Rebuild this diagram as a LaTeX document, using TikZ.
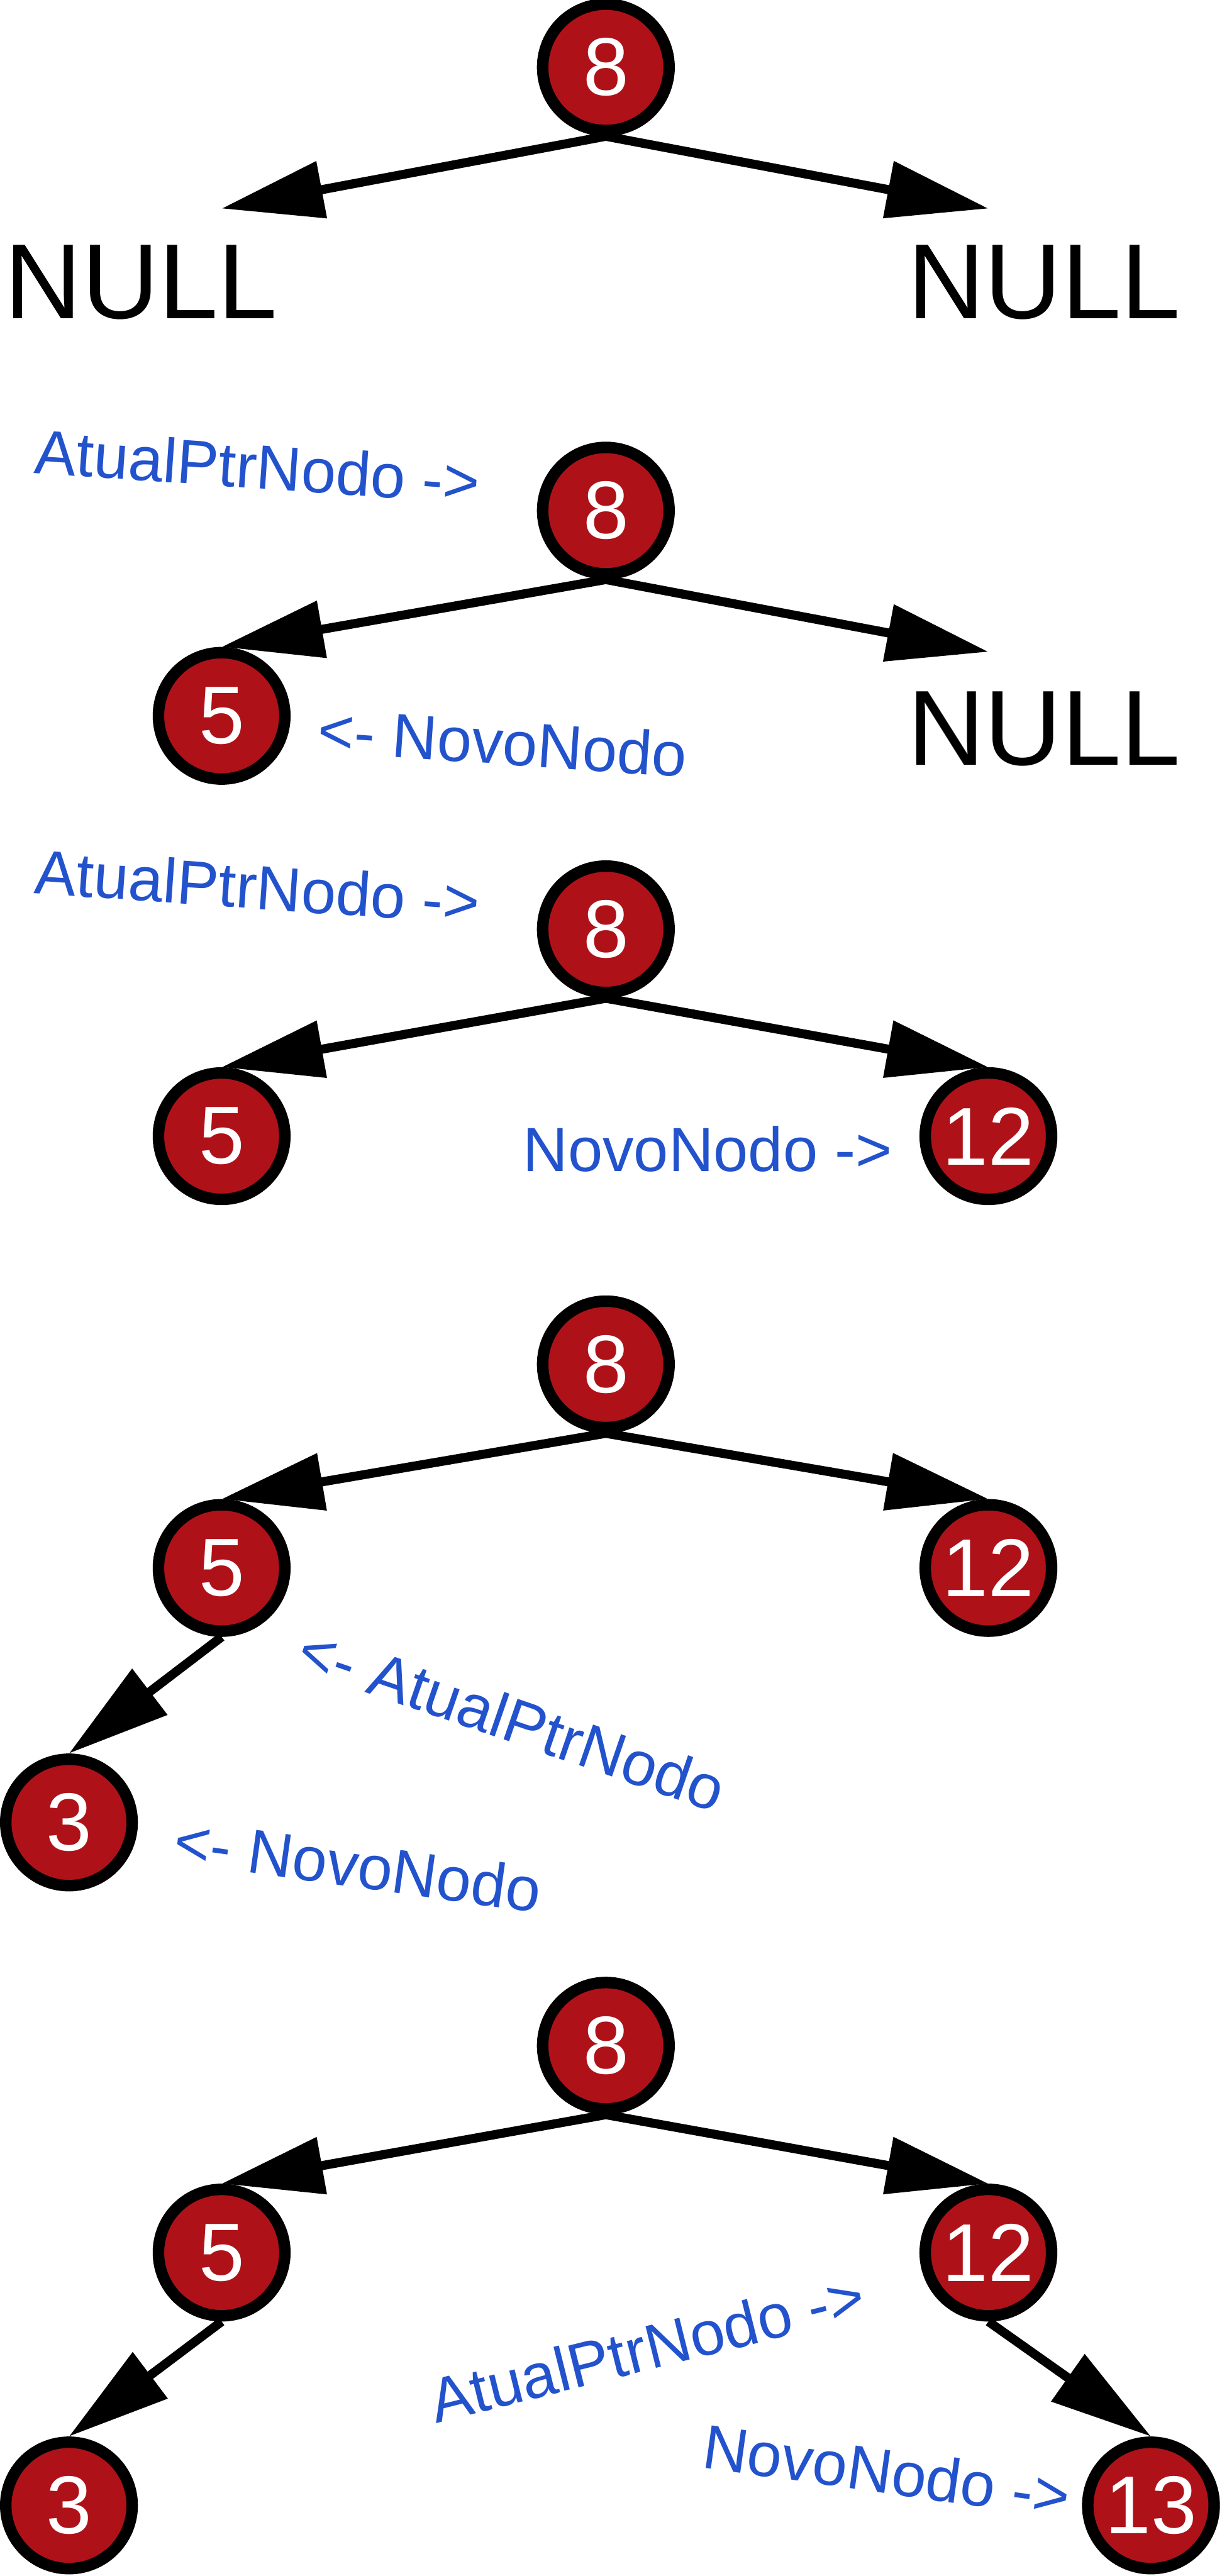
\documentclass[tikz,border=0pt]{standalone}
\usepackage{fontspec}
\setmainfont{Liberation Sans}
\usetikzlibrary{arrows.meta}
\definecolor{nodo red}{RGB}{174,18,24}
\definecolor{ptr blue}{RGB}{34,82,204}
\colorlet{nodo edge}{black}
\tikzset{nodo/.style={circle, fill=nodo red, draw=nodo edge, line width=7pt,
		minimum size=77pt, inner sep=0pt, text=white, font=\fontsize{50}{50}\selectfont},
	seta/.style={line width=5.5pt, -{Triangle[length=62pt,width=34pt]}},
	ptr/.style={text=ptr blue, inner sep=0pt, font=\fontsize{38}{38}\selectfont},
	nulo/.style={inner sep=0pt, font=\fontsize{65}{65}\selectfont}}

\begin{document}
\begin{tikzpicture}[x=1pt,y=-1pt]
		\useasboundingbox (0,0) rectangle (744,1569);
		% 1: so a raiz
		\node[nodo] (a8) at (369,41) {8};
		\coordinate (aesq) at (135,127);
		\coordinate (adir) at (602,127);
		\node[nulo] (anull1) at (86,172) {NULL};
		\node[nulo] (anull2) at (636,172) {NULL};
		\draw[seta] (a8.south) -- (aesq);
		\draw[seta] (a8.south) -- (adir);
		
		% 2: insere 5
		\node[ptr, rotate=-4] (batual) at (157,284) {AtualPtrNodo ->};
		\node[nodo] (b8) at (369,311) {8};
		\node[nodo] (b5) at (135,436) {5};
		\node[ptr, rotate=-4] (bnovo) at (306,452) {<- NovoNodo};
		\coordinate (bdir) at (602,397);
		\node[nulo] (bnull) at (636,444) {NULL};
		\draw[seta] (b8.south) -- (b5.north);
		\draw[seta] (b8.south) -- (bdir);
		
		% 3: insere 12
		\node[ptr, rotate=-4] (catual) at (157,540) {AtualPtrNodo ->};
		\node[nodo] (c8) at (369,566) {8};
		\node[nodo] (c5) at (135,692) {5};
		\node[nodo] (c12) at (602,692) {12};
		\node[ptr] (cnovo) at (431,700) {NovoNodo ->};
		\draw[seta] (c8.south) -- (c5.north);
		\draw[seta] (c8.south) -- (c12.north);
		
		% 4: insere 3
		\node[nodo] (d8) at (369,831) {8};
		\node[nodo] (d5) at (135,955) {5};
		\node[nodo] (d12) at (602,955) {12};
		\node[nodo] (d3) at (42,1110) {3};
		\node[ptr, rotate=-19] (datual) at (312,1047) {<- AtualPtrNodo};
		\node[ptr, rotate=-8] (dnovo) at (218,1136) {<- NovoNodo};
		\draw[seta] (d8.south) -- (d5.north);
		\draw[seta] (d8.south) -- (d12.north);
		\draw[seta] (d5.south) -- (d3.north);
		
		% 5: insere 13
		\node[nodo] (e8) at (369,1246) {8};
		\node[nodo] (e5) at (135,1372) {5};
		\node[nodo] (e12) at (602,1372) {12};
		\node[nodo] (e3) at (42,1526) {3};
		\node[nodo] (e13) at (701,1526) {13};
		\node[ptr, rotate=14] (eatual) at (394,1430) {AtualPtrNodo ->};
		\node[ptr, rotate=-8] (enovo) at (540,1505) {NovoNodo ->};
		\draw[seta] (e8.south) -- (e5.north);
		\draw[seta] (e8.south) -- (e12.north);
		\draw[seta] (e5.south) -- (e3.north);
		\draw[seta] (e12.south) -- (e13.north);
\end{tikzpicture}
\end{document}
